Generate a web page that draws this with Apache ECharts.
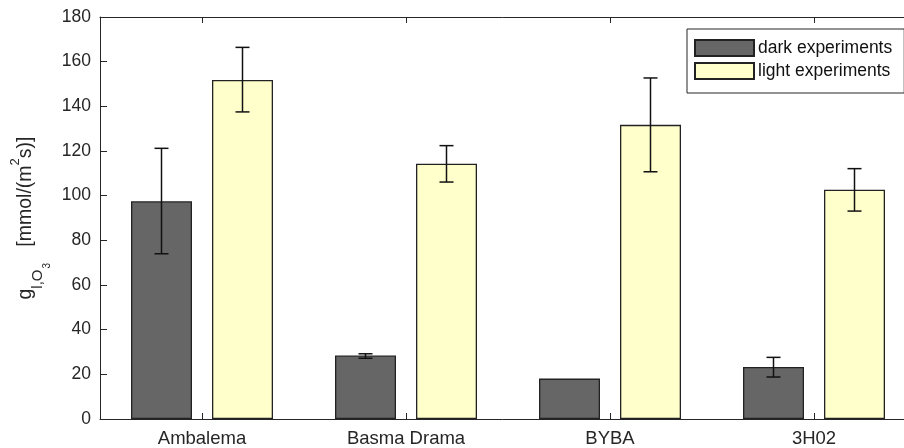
<!DOCTYPE html>
<html>
<head>
<meta charset="utf-8">
<script src="https://cdn.jsdelivr.net/npm/echarts@6/dist/echarts.min.js"></script>
<style>
html,body{margin:0;padding:0;background:#fff;}
#chart{width:904px;height:448px;}
</style>
</head>
<body>
<div id="chart"></div>
<script>
// ---- data ----
var categories = ['Ambalema', 'Basma Drama', 'BYBA', '3H02'];
var darkValues = [97.5, 28.4, 18.1, 23.3];
var darkErrLow = [74.0, 27.2, null, 18.8];
var darkErrHigh = [121.2, 29.2, null, 27.6];
var lightValues = [151.8, 114.3, 131.7, 102.7];
var lightErrLow = [137.5, 106.1, 110.7, 93.1];
var lightErrHigh = [166.4, 122.4, 152.7, 112.1];
var yTicks = { min: 0, max: 180, interval: 20 };
var seriesNames = ['dark experiments', 'light experiments'];

// ---- style ----
var FONT = '"Liberation Sans", Arial, Helvetica, sans-serif';
var AXIS = '#262626';
var BAR_W = 61;
var BAR_GAP_PX = 20;
var SHIFT = (BAR_W + BAR_GAP_PX) / 2;

function errData(low, high) {
  var out = [];
  for (var i = 0; i < categories.length; i++) {
    if (low[i] != null && high[i] != null) out.push([i, low[i], high[i]]);
  }
  return out;
}

function errRender(dir) {
  return function (params, api) {
    var c = api.value(0);
    var lo = api.coord([c, api.value(1)]);
    var hi = api.coord([c, api.value(2)]);
    var x = lo[0] + dir * SHIFT;
    var cap = 7;
    var st = { stroke: '#111', lineWidth: 1.5 };
    return {
      type: 'group',
      children: [
        { type: 'line', shape: { x1: x, y1: lo[1], x2: x, y2: hi[1] }, style: st },
        { type: 'line', shape: { x1: x - cap, y1: lo[1], x2: x + cap, y2: lo[1] }, style: st },
        { type: 'line', shape: { x1: x - cap, y1: hi[1], x2: x + cap, y2: hi[1] }, style: st }
      ]
    };
  };
}

var chart = echarts.init(document.getElementById('chart'), null, { renderer: 'canvas' });

var option = {
  backgroundColor: '#fff',
  animation: false,
  textStyle: { fontFamily: FONT },
  grid: { left: 100, top: 17, bottom: 29, right: -12, outerBoundsMode: 'none', containLabel: false },
  legend: {
    data: seriesNames,
    orient: 'vertical',
    left: 687, top: 29,
    padding: [10, 12, 13, 7],
    itemGap: 5,
    itemWidth: 59, itemHeight: 16,
    backgroundColor: '#fff',
    borderColor: AXIS, borderWidth: 1,
    borderRadius: 0,
    icon: 'rect',
    textStyle: { fontFamily: FONT, fontSize: 17.5, color: '#111', padding: [0, 0, 0, -1] }
  },
  xAxis: [{
    type: 'category',
    data: categories,
    position: 'bottom',
    boundaryGap: true,
    axisLine: { show: true, lineStyle: { color: AXIS, width: 1 } },
    axisTick: { show: true, inside: true, length: 6, alignWithLabel: true, lineStyle: { color: AXIS } },
    axisLabel: { fontFamily: FONT, fontSize: 18.5, color: '#262626', margin: 10 },
    splitLine: { show: false }
  }, {
    type: 'category',
    data: categories,
    position: 'top',
    boundaryGap: true,
    axisLine: { show: true, lineStyle: { color: AXIS, width: 1 } },
    axisTick: { show: true, inside: true, length: 6, alignWithLabel: true, lineStyle: { color: AXIS } },
    axisLabel: { show: false },
    splitLine: { show: false }
  }],
  yAxis: {
    type: 'value',
    min: yTicks.min, max: yTicks.max, interval: yTicks.interval,
    axisLine: { show: true, lineStyle: { color: AXIS, width: 1 } },
    axisTick: { show: true, inside: true, length: 7, lineStyle: { color: AXIS } },
    axisLabel: { fontFamily: FONT, fontSize: 17.5, color: '#262626', margin: 9 },
    splitLine: { show: false },
    name: '{m|g}{sub|l,O}{sub2|3}{m|   [mmol/(m}{sup|2}{m|s)]}',
    nameLocation: 'middle',
    nameRotate: 90,
    nameGap: 48,
    nameMoveOverlap: false,
    nameTextStyle: {
      fontFamily: FONT,
      color: '#262626',
      rich: {
        m: { fontFamily: FONT, fontSize: 19.5, lineHeight: 24, verticalAlign: 'middle', color: '#262626' },
        sub: { fontFamily: FONT, fontSize: 15, verticalAlign: 'middle', padding: [24, 0, 0, 0], color: '#262626' },
        sub2: { fontFamily: FONT, fontSize: 10, verticalAlign: 'middle', padding: [42, 0, 0, 1], color: '#262626' },
        sup: { fontFamily: FONT, fontSize: 13, verticalAlign: 'middle', padding: [0, 0, 22, 0], color: '#262626' }
      }
    }
  },
  series: [{
    name: seriesNames[0],
    type: 'bar',
    data: darkValues,
    barWidth: BAR_W,
    barGap: (BAR_GAP_PX / BAR_W * 100) + '%',
    itemStyle: { color: '#666666', borderColor: '#222', borderWidth: 1.3 }
  }, {
    name: seriesNames[1],
    type: 'bar',
    data: lightValues,
    barWidth: BAR_W,
    barGap: (BAR_GAP_PX / BAR_W * 100) + '%',
    itemStyle: { color: '#ffffcc', borderColor: '#222', borderWidth: 1.3 }
  }, {
    type: 'custom',
    name: 'darkErr',
    renderItem: errRender(-1),
    data: errData(darkErrLow, darkErrHigh),
    encode: { x: 0, y: [1, 2] },
    z: 5,
    silent: true
  }, {
    type: 'custom',
    name: 'lightErr',
    renderItem: errRender(1),
    data: errData(lightErrLow, lightErrHigh),
    encode: { x: 0, y: [1, 2] },
    z: 5,
    silent: true
  }]
};

chart.setOption(option);
</script>
</body>
</html>
